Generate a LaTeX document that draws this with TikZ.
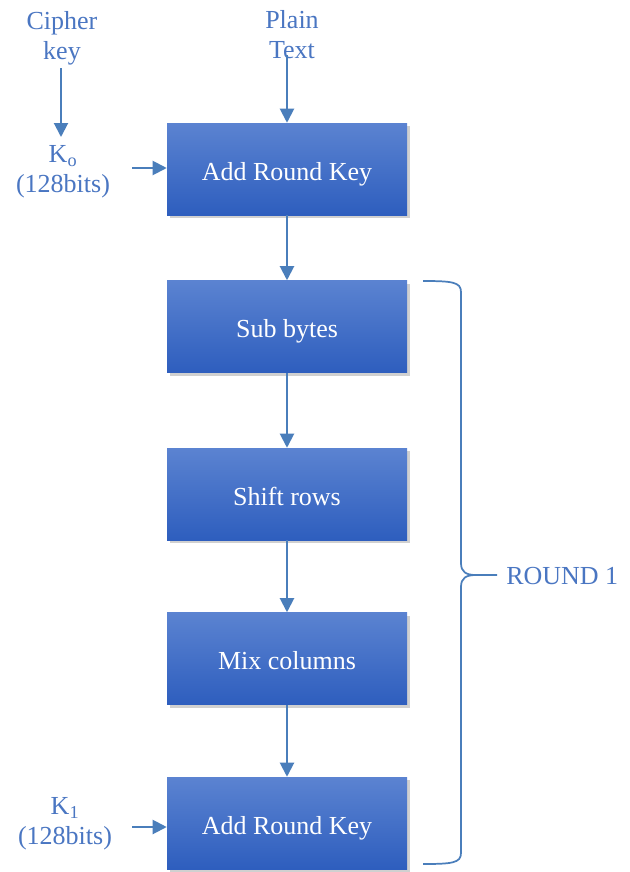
\documentclass[tikz,border=0pt]{standalone}
\usepackage{fontspec}
\setmainfont{Liberation Serif}
\usetikzlibrary{arrows.meta,shadows}
\definecolor{labelblue}{HTML}{4A76C2}
\definecolor{linkblue}{HTML}{4A7EBB}
\definecolor{boxtop}{HTML}{5B83D1}
\definecolor{boxbot}{HTML}{2E5EBE}
\tikzset{
  stage/.style={rectangle, minimum width=180pt, minimum height=69pt,
    top color=boxtop, bottom color=boxbot, draw=none, text=white,
    font=\fontsize{19.5}{22}\selectfont, text height=18pt, text depth=1pt,
    drop shadow={shadow xshift=2pt, shadow yshift=-2.5pt, opacity=0.3, fill=black!60}},
  lbl/.style={text=labelblue, align=center, font=\fontsize{19.5}{22.5}\selectfont, inner sep=0pt},
  link/.style={draw=linkblue, line width=1.5pt, -{Triangle[length=10.5pt,width=10.5pt]}},
  bracepath/.style={draw=linkblue, line width=1.3pt}
}
\begin{document}
\begin{tikzpicture}[x=0.75pt, y=-0.75pt]
\useasboundingbox (0,0) rectangle (629,872);
\fill[white] (0,0) rectangle (629,872);

% processing stages
\node[stage] (ark0) at (287,169) {Add Round Key};
\node[stage] (sub)  at (287,326.5) {Sub bytes};
\node[stage] (shift) at (287,494) {Shift rows};
\node[stage] (mix)  at (287,658.5) {Mix columns};
\node[stage] (ark1) at (287,823) {Add Round Key};

% inputs
\node[lbl] (plain) at (292,35) {Plain\\Text};
\node[lbl] (cipher) at (62,38) {Cipher\\key};
\node[lbl] (k0) at (63,172) {K\textsubscript{o}\\(128bits)};
\node[lbl] (k1) at (65,824) {K\textsubscript{1}\\(128bits)};
\node[lbl, anchor=west] (round) at (506,576) {ROUND 1};

\coordinate (ptop) at (287,55);
\coordinate (ctop) at (61,68);
\coordinate (k0r) at (132,168);
\coordinate (k1r) at (132,827);

% connectors
\draw[link] (ptop) -- (ark0.north);
\draw[link] (ctop) -- (61,137);
\draw[link] (k0r) -- (ark0.west |- k0r);
\draw[link] (k1r) -- (ark1.west |- k1r);
\draw[link] (ark0.south) -- (sub.north);
\draw[link] (sub.south) -- (shift.north);
\draw[link] (shift.south) -- (mix.north);
\draw[link] (mix.south) -- (ark1.north);

% brace grouping the first round
\coordinate (tip) at (497,575);
\draw[bracepath] (423,281) .. controls (452,281) and (461,282) .. (461,292)
  -- (461,563) .. controls (461,572) and (466,575) .. (476,575) -- (tip);
\draw[bracepath] (423,864) .. controls (452,864) and (461,863) .. (461,853)
  -- (461,587) .. controls (461,578) and (466,575) .. (476,575);
\end{tikzpicture}
\end{document}
